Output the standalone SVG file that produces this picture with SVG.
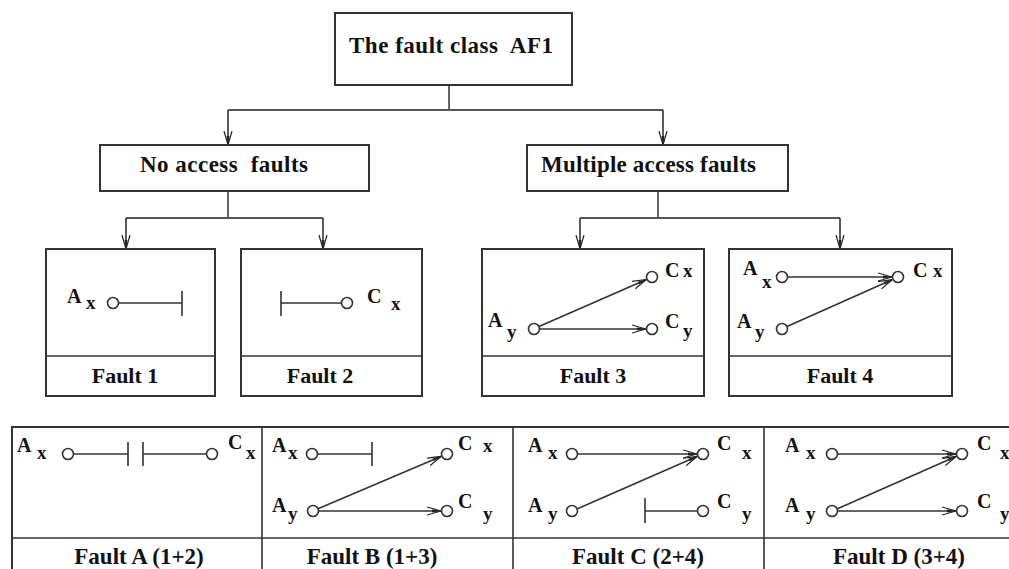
<svg xmlns="http://www.w3.org/2000/svg" width="1009" height="569" viewBox="0 0 1009 569">
<defs>
<marker id="ah" viewBox="0 0 14 10" refX="14" refY="5" markerWidth="14" markerHeight="10" markerUnits="userSpaceOnUse" orient="auto">
<path d="M0,1 L14,5 L0,9" fill="none" stroke="#222" stroke-width="1.2"/>
<path d="M5,3.6 L14,5 L5,6.4 Z" fill="#222"/>
</marker>
<style>
.box{fill:#fff;stroke:#333;stroke-width:2}
.ln{fill:none;stroke:#333;stroke-width:1.6}
.tr{fill:none;stroke:#555;stroke-width:1.8}
.ar{fill:none;stroke:#333;stroke-width:1.6;marker-end:url(#ah)}
.nd{fill:#fff;stroke:#333;stroke-width:1.6}
.t{font-family:"Liberation Serif",serif;font-weight:bold;fill:#111}
.big{font-size:23px}
.lab{font-size:22px}
.blab{font-size:23px}
.cap{font-size:20px}
.sub{font-size:19px}
</style>
</defs>

<g id="connectors">
<path class="tr" d="M449,85 V110 M228,110 H663"/>
<path class="ar" d="M228,110 V145"/>
<path class="ar" d="M663,110 V145"/>
<path class="tr" d="M228,191 V218 M126,218 H323"/>
<path class="ar" d="M126,218 V249"/>
<path class="ar" d="M323,218 V249"/>
<path class="tr" d="M658,191 V218 M580,218 H840"/>
<path class="ar" d="M580,218 V249"/>
<path class="ar" d="M840,218 V249"/>
</g>

<g id="root">
<rect class="box" x="335" y="13" width="237" height="72"/>
<text class="t big" x="349" y="53" textLength="204" xml:space="preserve">The fault class  AF1</text>
</g>

<g id="no-access">
<rect class="box" x="100" y="145" width="269" height="46"/>
<text class="t big" x="140" y="172" textLength="168" xml:space="preserve">No access  faults</text>
</g>

<g id="multiple-access">
<rect class="box" x="527" y="145" width="261" height="46"/>
<text class="t big" x="541" y="172" textLength="215">Multiple access faults</text>
</g>

<g id="fault1">
<rect class="box" x="46" y="249" width="169" height="147"/>
<line class="ln" x1="46" y1="356" x2="215" y2="356"/>
<text class="t cap" x="67" y="303">A</text>
<text class="t sub" x="86" y="309">x</text>
<line class="ln" x1="119" y1="303" x2="182" y2="303"/>
<line class="ln" x1="182" y1="291" x2="182" y2="316"/>
<circle class="nd" cx="113" cy="303" r="5.5"/>
<text class="t lab" x="125" y="383" text-anchor="middle">Fault 1</text>
</g>

<g id="fault2">
<rect class="box" x="241" y="249" width="181" height="147"/>
<line class="ln" x1="241" y1="356" x2="422" y2="356"/>
<line class="ln" x1="281" y1="303" x2="341" y2="303"/>
<line class="ln" x1="281" y1="291" x2="281" y2="316"/>
<circle class="nd" cx="347" cy="303" r="5.5"/>
<text class="t cap" x="367" y="303">C</text>
<text class="t sub" x="391" y="310">x</text>
<text class="t lab" x="320" y="383" text-anchor="middle">Fault 2</text>
</g>

<g id="fault3">
<rect class="box" x="482" y="249" width="222" height="147"/>
<line class="ln" x1="482" y1="356" x2="704" y2="356"/>
<text class="t cap" x="488" y="327">A</text>
<text class="t sub" x="507" y="338">y</text>
<line class="ar" x1="539" y1="326.5" x2="646.5" y2="279.5"/>
<line class="ar" x1="540" y1="329" x2="646" y2="329"/>
<circle class="nd" cx="534" cy="329" r="5.5"/>
<circle class="nd" cx="652" cy="277" r="5.5"/>
<circle class="nd" cx="652" cy="329" r="5.5"/>
<text class="t cap" x="665" y="277">C</text>
<text class="t sub" x="683" y="277">x</text>
<text class="t cap" x="665" y="328">C</text>
<text class="t sub" x="683" y="337">y</text>
<text class="t lab" x="593" y="383" text-anchor="middle">Fault 3</text>
</g>

<g id="fault4">
<rect class="box" x="729" y="249" width="223" height="147"/>
<line class="ln" x1="729" y1="356" x2="952" y2="356"/>
<text class="t cap" x="743" y="275">A</text>
<text class="t sub" x="762" y="288">x</text>
<text class="t cap" x="737" y="328">A</text>
<text class="t sub" x="755" y="338">y</text>
<line class="ar" x1="788" y1="277" x2="892" y2="277"/>
<line class="ar" x1="787" y1="326.5" x2="892.5" y2="279.5"/>
<circle class="nd" cx="782" cy="277" r="5.5"/>
<circle class="nd" cx="782" cy="329" r="5.5"/>
<circle class="nd" cx="898" cy="277" r="5.5"/>
<text class="t cap" x="913" y="277">C</text>
<text class="t sub" x="933" y="277">x</text>
<text class="t lab" x="840" y="383" text-anchor="middle">Fault 4</text>
</g>

<g id="table">
<rect class="box" x="12" y="427" width="1010" height="160"/>
<line class="ln" x1="12" y1="538" x2="1009" y2="538" stroke-width="2"/>
<line class="ln" x1="262" y1="427" x2="262" y2="569" stroke-width="2"/>
<line class="ln" x1="513" y1="427" x2="513" y2="569" stroke-width="2"/>
<line class="ln" x1="764" y1="427" x2="764" y2="569" stroke-width="2"/>
</g>

<g id="faultA">
<text class="t cap" x="17" y="452">A</text>
<text class="t sub" x="37" y="459">x</text>
<line class="ln" x1="74" y1="454" x2="128" y2="454"/>
<line class="ln" x1="128" y1="442" x2="128" y2="466"/>
<line class="ln" x1="143" y1="442" x2="143" y2="466"/>
<line class="ln" x1="143" y1="454" x2="206" y2="454"/>
<circle class="nd" cx="68" cy="454" r="5.5"/>
<circle class="nd" cx="212" cy="454" r="5.5"/>
<text class="t cap" x="228" y="449">C</text>
<text class="t sub" x="246" y="459">x</text>
<text class="t blab" x="139" y="564" text-anchor="middle">Fault A (1+2)</text>
</g>

<g id="faultB">
<text class="t cap" x="272" y="452">A</text>
<text class="t sub" x="288" y="459">x</text>
<line class="ln" x1="318" y1="454" x2="372" y2="454"/>
<line class="ln" x1="372" y1="442" x2="372" y2="466"/>
<text class="t cap" x="272" y="512">A</text>
<text class="t sub" x="288" y="520">y</text>
<line class="ar" x1="318" y1="508.8" x2="441.5" y2="456.3"/>
<line class="ar" x1="319" y1="511" x2="441" y2="511"/>
<circle class="nd" cx="312" cy="454" r="5.5"/>
<circle class="nd" cx="313" cy="511" r="5.5"/>
<circle class="nd" cx="447" cy="454" r="5.5"/>
<circle class="nd" cx="447" cy="511" r="5.5"/>
<text class="t cap" x="458" y="450">C</text>
<text class="t sub" x="483" y="452">x</text>
<text class="t cap" x="458" y="508">C</text>
<text class="t sub" x="483" y="520">y</text>
<text class="t blab" x="372" y="564" text-anchor="middle">Fault B (1+3)</text>
</g>

<g id="faultC">
<text class="t cap" x="528" y="452">A</text>
<text class="t sub" x="548" y="459">x</text>
<text class="t cap" x="528" y="512">A</text>
<text class="t sub" x="548" y="520">y</text>
<line class="ar" x1="578" y1="454" x2="697" y2="454"/>
<line class="ar" x1="577.5" y1="508.7" x2="697.5" y2="456.3"/>
<line class="ln" x1="645" y1="511" x2="697" y2="511"/>
<line class="ln" x1="645" y1="498" x2="645" y2="523"/>
<circle class="nd" cx="572" cy="454" r="5.5"/>
<circle class="nd" cx="572" cy="511" r="5.5"/>
<circle class="nd" cx="703" cy="454" r="5.5"/>
<circle class="nd" cx="703" cy="511" r="5.5"/>
<text class="t cap" x="717" y="450">C</text>
<text class="t sub" x="742" y="459">x</text>
<text class="t cap" x="717" y="508">C</text>
<text class="t sub" x="742" y="520">y</text>
<text class="t blab" x="638" y="564" text-anchor="middle">Fault C (2+4)</text>
</g>

<g id="faultD">
<text class="t cap" x="785" y="452">A</text>
<text class="t sub" x="806" y="459">x</text>
<text class="t cap" x="785" y="512">A</text>
<text class="t sub" x="806" y="520">y</text>
<line class="ar" x1="838" y1="454" x2="956" y2="454"/>
<line class="ar" x1="837.5" y1="508.7" x2="956.5" y2="456.3"/>
<line class="ar" x1="838" y1="511" x2="956" y2="511"/>
<circle class="nd" cx="832" cy="454" r="5.5"/>
<circle class="nd" cx="832" cy="511" r="5.5"/>
<circle class="nd" cx="962" cy="454" r="5.5"/>
<circle class="nd" cx="962" cy="511" r="5.5"/>
<text class="t cap" x="977" y="450">C</text>
<text class="t sub" x="1000" y="459">x</text>
<text class="t cap" x="977" y="508">C</text>
<text class="t sub" x="1000" y="520">y</text>
<text class="t blab" x="899" y="564" text-anchor="middle">Fault D (3+4)</text>
</g>
</svg>
